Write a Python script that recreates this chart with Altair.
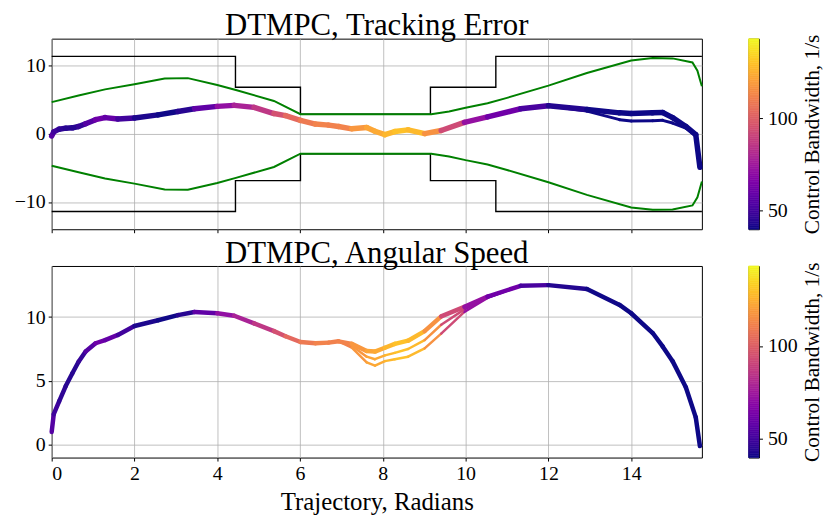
import altair as alt
import pandas as pd

FONT = "Liberation Serif"

# ---- sampled trajectory positions (radians) ----
x_s = [0.00, 0.05, 0.18, 0.34, 0.50, 0.65, 0.82, 1.06, 1.29, 1.60, 2.00, 2.57, 3.05, 3.45,
       4.00, 4.41, 4.89, 5.37, 5.65, 6.01, 6.37, 6.69, 6.93, 7.25, 7.61, 7.81, 8.05, 8.29,
       8.61, 9.01, 9.41, 9.97, 10.53, 11.33, 12.00, 12.93, 13.72, 14.00, 14.52, 14.76,
       15.00, 15.32, 15.56, 15.66]

# control bandwidth (1/s) along the trajectory
bw = [58, 52, 47, 45, 44, 45, 50, 60, 63, 55, 45, 40, 41, 48,
      68, 75, 82, 90, 100, 107, 111, 113, 110, 114, 122, 122, 125, 129,
      130, 125, 108, 78, 66, 58, 46, 41, 40, 40, 40, 40,
      40, 40, 40, 40]

# tracking error, two bundles of runs
err_a = [-0.3, 0.3, 0.7, 0.85, 0.9, 1.1, 1.5, 2.1, 2.4, 2.2, 2.35, 2.8, 3.3, 3.7,
         4.05, 4.2, 3.9, 3.0, 2.7, 2.0, 1.45, 1.3, 1.1, 0.75, 0.95, 0.4, -0.1, 0.35,
         0.6, 0.05, 0.5, 1.7, 2.5, 3.7, 4.15, 3.6, 3.1, 3.0, 3.1, 3.15,
         2.4, 1.1, -0.1, -4.9]
err_b = [-0.3, 0.3, 0.7, 0.85, 0.9, 1.1, 1.5, 2.1, 2.4, 2.2, 2.35, 2.8, 3.3, 3.7,
         4.05, 4.2, 3.9, 3.0, 2.7, 2.0, 1.45, 1.3, 1.1, 0.75, 0.95, 0.4, -0.1, 0.35,
         0.6, 0.05, 0.5, 1.7, 2.5, 3.7, 4.1, 3.35, 2.1, 1.9, 1.95, 2.0,
         1.6, 0.85, -0.3, -4.9]

# angular speed, three strands of runs
spd_a = [1.0, 2.4, 3.4, 4.6, 5.6, 6.5, 7.3, 7.95, 8.2, 8.6, 9.3, 9.75, 10.15, 10.4,
         10.3, 10.1, 9.5, 8.9, 8.5, 8.05, 7.95, 8.0, 8.1, 7.9, 7.35, 7.3, 7.6, 7.9,
         8.15, 8.9, 10.05, 10.8, 11.6, 12.45, 12.5, 12.2, 10.95, 10.3, 8.75, 7.7,
         6.55, 4.5, 2.15, -0.1]
spd_c = [1.0, 2.4, 3.4, 4.6, 5.6, 6.5, 7.3, 7.95, 8.2, 8.6, 9.3, 9.75, 10.15, 10.4,
         10.3, 10.1, 9.5, 8.9, 8.5, 8.05, 7.95, 8.0, 8.1, 7.75, 6.9, 6.7, 7.0, 7.2,
         7.5, 8.2, 9.4, 10.6, 11.55, 12.45, 12.5, 12.2, 10.95, 10.3, 8.75, 7.7,
         6.55, 4.5, 2.15, -0.1]
spd_b = [1.0, 2.4, 3.4, 4.6, 5.6, 6.5, 7.3, 7.95, 8.2, 8.6, 9.3, 9.75, 10.15, 10.4,
         10.3, 10.1, 9.5, 8.9, 8.5, 8.05, 7.95, 8.0, 8.1, 7.6, 6.45, 6.2, 6.55, 6.7,
         6.9, 7.55, 8.7, 10.4, 11.5, 12.45, 12.5, 12.2, 10.95, 10.3, 8.75, 7.7,
         6.55, 4.5, 2.15, -0.1]

# tube bounds (green)
tube_x = [0.00, 0.65, 1.29, 2.00, 2.73, 3.29, 4.00, 4.45, 5.37, 6.01, 9.17, 9.60,
          10.00, 10.53, 11.00, 12.00, 12.93, 14.00, 14.52, 15.00, 15.48, 15.60, 15.66, 15.708]
tube_hi = [4.67, 5.64, 6.55, 7.3, 8.15, 8.2, 7.2, 6.45, 4.85, 2.9, 2.9, 3.3,
           3.85, 4.5, 5.3, 7.1, 8.95, 10.8, 11.15, 11.1, 10.5, 9.3, 8.0, 7.0]
tube_lo = [-4.67, -5.64, -6.55, -7.3, -8.15, -8.2, -7.2, -6.45, -4.85, -2.9, -2.9, -3.3,
           -3.85, -4.5, -5.3, -7.1, -8.95, -10.8, -11.15, -11.1, -10.5, -9.3, -8.0, -7.0]

# track walls (black steps)
wall_x = [0.0, 4.44, 6.01, 9.15, 10.73, 15.708]
wall_hi = [11.4, 6.85, 2.9, 6.85, 11.4, 11.4]
wall_lo = [-11.4, -6.85, -2.9, -6.85, -11.4, -11.4]

x_ticks = [0, 2, 4, 6, 8, 10, 12, 14]
cb_domain = [40, 143]


def seg_rows(xs, ys, cs, width, run):
    rows = []
    for i in range(len(xs) - 1):
        rows.append({"x": xs[i], "y": ys[i], "x2": xs[i + 1], "y2": ys[i + 1],
                     "bw": (cs[i] + cs[i + 1]) / 2, "w": width, "run": run})
    return rows


err_df = pd.DataFrame(seg_rows(x_s, err_b, bw, 3.0, "b") + seg_rows(x_s, err_a, bw, 5.5, "a"))
spd_df = pd.DataFrame(seg_rows(x_s, spd_b, bw, 2.5, "b") + seg_rows(x_s, spd_c, bw, 2.5, "c")
                      + seg_rows(x_s, spd_a, bw, 4.5, "a"))
tube_df = pd.DataFrame({"x": tube_x, "hi": tube_hi, "lo": tube_lo})
wall_df = pd.DataFrame({"x": wall_x, "hi": wall_hi, "lo": wall_lo})

XS = alt.Scale(domain=[0, 15.708], nice=False, zero=False)
CS = alt.Scale(scheme="plasma", domain=cb_domain)


def xenc(bottom):
    return alt.X("x:Q", scale=XS,
                 axis=alt.Axis(values=x_ticks, labels=bottom, grid=True,
                               title="Trajectory, Radians" if bottom else None,
                               format="d"))


def yenc(domain, ticks):
    return alt.Y("y:Q", scale=alt.Scale(domain=domain, nice=False, zero=False),
                 axis=alt.Axis(values=ticks, title=None, grid=True, format="d",
                               minExtent=43, maxExtent=43))


def title(text):
    return alt.TitleParams(text, font=FONT, fontSize=31, fontWeight="normal", color="black",
                           anchor="middle", frame="group", offset=-3.5)


# ---- top panel: tracking error ----
top_dom, top_ticks = [-14, 14], [-10, 0, 10]
walls = alt.Chart(wall_df).transform_fold(["hi", "lo"], as_=["side", "y"]).mark_line(
    interpolate="step-after", color="black", strokeWidth=1.4).encode(
    x=xenc(False), y=yenc(top_dom, top_ticks), detail="side:N")
tube = alt.Chart(tube_df).transform_fold(["hi", "lo"], as_=["side", "y"]).mark_line(
    color="#008000", strokeWidth=2).encode(
    x=xenc(False), y=yenc(top_dom, top_ticks), detail="side:N")
err = alt.Chart(err_df).mark_rule(strokeCap="round").encode(
    x=xenc(False), y=yenc(top_dom, top_ticks), x2="x2:Q", y2="y2:Q",
    color=alt.Color("bw:Q", scale=CS, legend=None),
    strokeWidth=alt.StrokeWidth("w:Q", scale=None))
top = alt.layer(walls, tube, err).properties(width=655, height=192,
                                             title=title("DTMPC, Tracking Error"))

# ---- bottom panel: angular speed ----
bot_dom, bot_ticks = [-1, 14], [0, 5, 10]
spd = alt.Chart(spd_df).mark_rule(strokeCap="round").encode(
    x=xenc(True), y=yenc(bot_dom, bot_ticks), x2="x2:Q", y2="y2:Q",
    color=alt.Color("bw:Q", scale=CS, legend=None),
    strokeWidth=alt.StrokeWidth("w:Q", scale=None))
bot = alt.layer(spd).properties(width=655, height=193,
                                title=title("DTMPC, Angular Speed"))

# ---- colorbars ----
cb_lo = list(range(cb_domain[0], cb_domain[1]))
cb_df = pd.DataFrame({"lo": cb_lo, "hi": [v + 1 for v in cb_lo], "mid": [v + 0.5 for v in cb_lo]})


def colorbar(h):
    return alt.Chart(cb_df).mark_rect(strokeWidth=0.6).encode(
        x=alt.value(0), x2=alt.value(10.5),
        y=alt.Y("lo:Q", scale=alt.Scale(domain=cb_domain, nice=False, zero=False),
                axis=alt.Axis(orient="right", values=[50, 100], grid=False,
                              title="Control Bandwidth, 1/s", titleAngle=270,
                              titleBaseline="top", titleFontSize=21.5, titlePadding=4,
                              labelPadding=5, format="d")),
        y2="hi:Q",
        color=alt.Color("mid:Q", scale=CS, legend=None),
        stroke=alt.Stroke("mid:Q", scale=CS, legend=None),
    ).properties(width=10.5, height=h)


chart = alt.concat(top, colorbar(192), bot, colorbar(193), columns=2,
                   spacing={"row": 2, "column": 41}).properties(
    padding={"left": 0, "top": 0, "right": 0, "bottom": 0}
).configure_axis(
    labelFont=FONT, labelFontSize=20, labelColor="black",
    tickColor="black", tickSize=3.5, tickWidth=1,
    gridColor="#b0b0b0", gridWidth=0.8, gridOpacity=1, domain=False,
    titleFont=FONT, titleFontSize=25, titleFontWeight="normal", titleColor="black",
    labelPadding=3, titlePadding=6,
).configure_view(stroke="black", strokeWidth=1)

chart.save("out.html", embed_options={"renderer": "svg", "actions": False})
